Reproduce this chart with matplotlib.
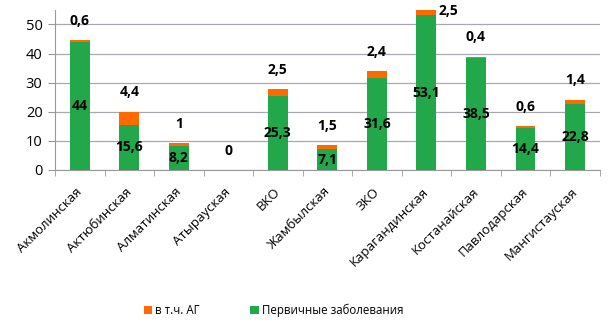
import numpy as np
import matplotlib
matplotlib.use('Agg')
import matplotlib.pyplot as plt
import matplotlib.transforms as mtransforms

# Data
regions = ['Акмолинская', 'Актюбинская', 'Алматинская', 'Атырауская', 'ВКО', 'Жамбылская',
           'ЗКО', 'Карагандинская', 'Костанайская', 'Павлодарская', 'Мангистауская']
primary = [44, 15.6, 8.2, 0, 25.3, 7.1, 31.6, 53.1, 38.5, 14.4, 22.8]
ag = [0.6, 4.4, 1, 0, 2.5, 1.5, 2.4, 2.5, 0.4, 0.6, 1.4]

green = '#22a84a'
orange = '#ff6a00'

plt.rcParams['font.family'] = ['Open Sans', 'DejaVu Sans']

fig = plt.figure(figsize=(6.12, 3.23), dpi=100)
ax = fig.add_axes([0.0899, 0.4737, 0.890, 0.4955])

x = np.arange(len(regions))
w = 0.4
b1 = ax.bar(x, primary, w, color=green, label='Первичные заболевания', zorder=3)
b2 = ax.bar(x, ag, w, bottom=primary, color=orange, label='в т.ч. АГ', zorder=3)

def fmt(v):
    s = ('%g' % v).replace('.', ',')
    return s

# labels inside green segments
for i, v in enumerate(primary):
    if v > 0:
        ax.text(x[i], v / 2, fmt(v), ha='center', va='center', fontsize=10,
                fontweight='bold', zorder=4)

# labels for AG above the bar
for i, v in enumerate(ag):
    top = primary[i] + v
    if top > 50:
        # no room above, put it at the right of the bar
        ax.annotate(fmt(v), (x[i] + 0.45, top), xytext=(0, -2), textcoords='offset points',
                    ha='center', va='center', fontsize=10, fontweight='bold',
                    zorder=4, annotation_clip=False)
    else:
        ax.annotate(fmt(v), (x[i], top), xytext=(0, 14), textcoords='offset points',
                    ha='center', va='center', fontsize=10, fontweight='bold',
                    zorder=4, annotation_clip=False)

ax.set_xlim(-0.5, len(regions) - 0.5)
ax.set_ylim(0, 55)
ax.set_yticks([0, 10, 20, 30, 40, 50])
ax.tick_params(axis='y', labelsize=10.5, length=5, pad=4, color='#999999')
ax.yaxis.grid(True, color='#a8a8b0', linewidth=0.9, zorder=0)

ax.set_xticks(x)
ax.set_xticklabels(regions, rotation=45, ha='right', rotation_mode='anchor', fontsize=9.5)
ax.tick_params(axis='x', length=0, pad=11)
shift = mtransforms.ScaledTranslation(-4 / 100, 0, fig.dpi_scale_trans)
for lab in ax.get_xticklabels():
    lab.set_transform(lab.get_transform() + shift)
ax.set_xticks(np.arange(-0.5, len(regions)), minor=True)
ax.tick_params(axis='x', which='minor', length=4, color='#999999')

for s in ['top', 'right']:
    ax.spines[s].set_visible(False)
ax.spines['left'].set_color('#999999')
ax.spines['bottom'].set_color('#999999')

handles = [b2, b1]
fig.legend(handles, ['в т.ч. АГ', 'Первичные заболевания'], loc='center',
           bbox_to_anchor=(0.447, 0.04), ncol=2, frameon=False, fontsize=8.3,
           handlelength=0.7, handleheight=0.7, handletextpad=0.3, columnspacing=4.4)

fig.savefig('out.png', dpi=100)
